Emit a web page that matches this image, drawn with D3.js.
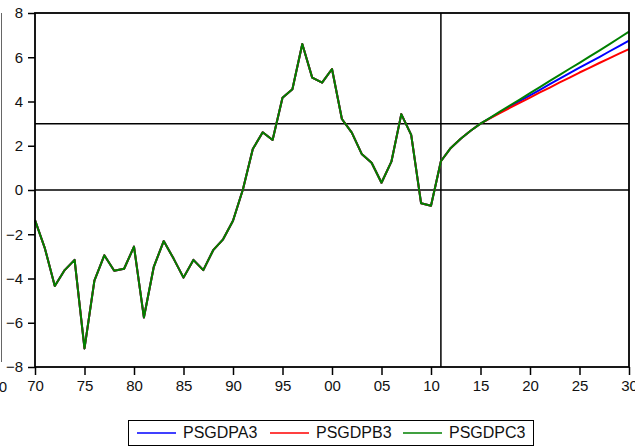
<!DOCTYPE html>
<html>
<head>
<meta charset="utf-8">
<script src="https://cdn.jsdelivr.net/npm/d3@7"></script>
<style>
  html, body { margin: 0; padding: 0; background: #fff; }
  svg { display: block; font-family: Arial, "Liberation Sans", sans-serif; }
</style>
</head>
<body>
<svg id="chart" width="635" height="447"></svg>
<script>
// Historical primary surplus/GDP, 1970-2011 (identical for all three scenarios)
const histYears = d3.range(1970, 2012);
const histValues = [
  -1.36, -2.64, -4.34, -3.62, -3.16, -7.16, -4.10, -2.95, -3.65, -3.56,
  -2.56, -5.76, -3.47, -2.31, -3.10, -3.96, -3.16, -3.62, -2.72, -2.23,
  -1.39, 0.02, 1.85, 2.61, 2.26, 4.17, 4.55, 6.60, 5.08, 4.85,
  5.47, 3.21, 2.59, 1.63, 1.23, 0.33, 1.28, 3.43, 2.49, -0.60,
  -0.71, 1.30
];

// Projection years, 2012-2030
const projYears = d3.range(2012, 2031);
const projA = [1.90, 2.32, 2.68, 3.00, 3.26, 3.52, 3.78, 4.03, 4.28, 4.53,
               4.78, 5.03, 5.28, 5.53, 5.77, 6.01, 6.26, 6.50, 6.75];
const projB = [1.90, 2.32, 2.68, 3.00, 3.25, 3.49, 3.72, 3.95, 4.18, 4.41,
               4.63, 4.86, 5.08, 5.31, 5.52, 5.74, 5.95, 6.16, 6.37];
const projC = [1.90, 2.32, 2.68, 3.00, 3.27, 3.55, 3.83, 4.10, 4.38, 4.65,
               4.93, 5.20, 5.48, 5.75, 6.03, 6.30, 6.58, 6.87, 7.16];

const seriesNames = ["PSGDPA3", "PSGDPB3", "PSGDPC3"];
const seriesColors = ["#0000ff", "#ff0000", "#008000"];

const xTicks = d3.range(1970, 2031, 5);
const yTicks = d3.range(-8, 9, 2);
const refLevels = [0, 3];
const refYear = 2011;

const svg = d3.select("#chart");
const plotLeft = 35, plotRight = 629, plotTop = 13, plotBottom = 367;

const x = d3.scaleLinear().domain([1970, 2030]).range([plotLeft, plotRight]);
const y = d3.scaleLinear().domain([-8, 8]).range([plotBottom, plotTop]);

// stray frame edge at the far left
svg.append("line")
  .attr("x1", 1.5).attr("x2", 1.5).attr("y1", 13).attr("y2", 362)
  .attr("stroke", "#666").attr("stroke-width", 1);
svg.append("text").attr("x", 7).attr("y", 392)
  .attr("text-anchor", "end").attr("font-size", 15).attr("fill", "#111").text("0");

// reference lines
refLevels.forEach(v => {
  svg.append("line")
    .attr("x1", plotLeft).attr("x2", plotRight)
    .attr("y1", y(v)).attr("y2", y(v))
    .attr("stroke", "#000").attr("stroke-width", 1.5);
});
svg.append("line")
  .attr("x1", x(refYear)).attr("x2", x(refYear))
  .attr("y1", plotTop).attr("y2", plotBottom)
  .attr("stroke", "#000").attr("stroke-width", 1.5);

// series
const line = d3.line().x(d => x(d[0])).y(d => y(d[1]));
const projections = [projA, projB, projC];
projections.forEach((proj, i) => {
  const pts = histYears.map((yr, k) => [yr, histValues[k]])
    .concat(projYears.map((yr, k) => [yr, proj[k]]));
  svg.append("path")
    .datum(pts)
    .attr("d", line)
    .attr("fill", "none")
    .attr("stroke", seriesColors[i])
    .attr("stroke-width", 2)
    .attr("stroke-linejoin", "round");
});

// frame
svg.append("rect")
  .attr("x", plotLeft).attr("y", plotTop)
  .attr("width", plotRight - plotLeft).attr("height", plotBottom - plotTop)
  .attr("fill", "none").attr("stroke", "#000").attr("stroke-width", 1.8);

// axes
const fmtYear = d => String(d % 100).padStart(2, "0");
const xAxis = svg.append("g")
  .attr("transform", `translate(0,${plotBottom})`)
  .call(d3.axisBottom(x).tickValues(xTicks).tickFormat(fmtYear).tickSize(8).tickPadding(5));
const yAxis = svg.append("g")
  .attr("transform", `translate(${plotLeft},0)`)
  .call(d3.axisLeft(y).tickValues(yTicks).tickFormat(d3.format("d")).tickSize(7).tickPadding(5));

[xAxis, yAxis].forEach(g => {
  g.select(".domain").remove();
  g.selectAll(".tick line").attr("stroke", "#000").attr("stroke-width", 1.5);
  g.selectAll("text").attr("font-size", 15).attr("fill", "#111")
    .attr("font-family", "Arial, 'Liberation Sans', sans-serif");
});

// legend
const legend = svg.append("g");
legend.append("rect")
  .attr("x", 128.5).attr("y", 420.5).attr("width", 405).attr("height", 25)
  .attr("fill", "#fff").attr("stroke", "#000").attr("stroke-width", 1);
const legendX = [137, 270, 403];
seriesNames.forEach((name, i) => {
  legend.append("line")
    .attr("x1", legendX[i]).attr("x2", legendX[i] + 39)
    .attr("y1", 433).attr("y2", 433)
    .attr("stroke", seriesColors[i]).attr("stroke-width", 1.5);
  legend.append("text")
    .attr("x", legendX[i] + 46).attr("y", 438)
    .attr("font-size", 16).attr("fill", "#111").text(name);
});
</script>
</body>
</html>
